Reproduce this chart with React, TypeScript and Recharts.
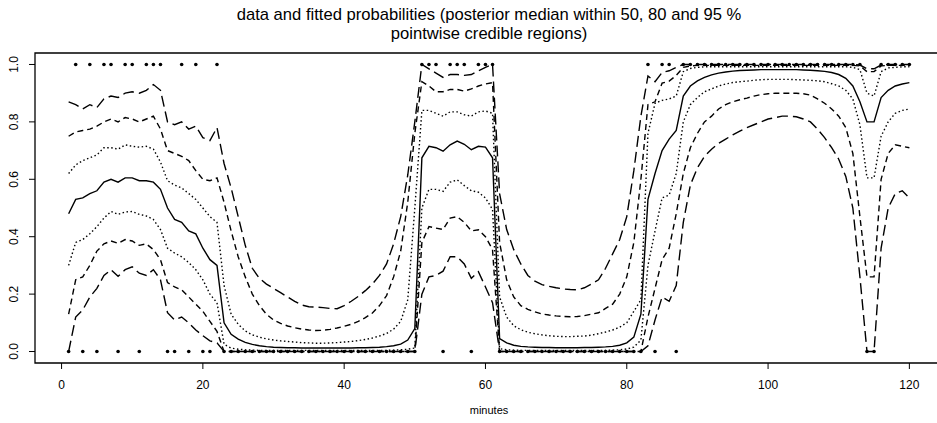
import React from 'react';
import { ComposedChart, Line, XAxis, YAxis, ReferenceArea } from 'recharts';

const minutes = [
  1, 2, 3, 4, 5, 6, 7, 8, 9, 10, 11, 12, 13, 14, 15, 16, 17, 18, 19, 20,
  21, 22, 23, 24, 25, 26, 27, 28, 29, 30, 31, 32, 33, 34, 35, 36, 37, 38, 39, 40,
  41, 42, 43, 44, 45, 46, 47, 48, 49, 50, 51, 52, 53, 54, 55, 56, 57, 58, 59, 60,
  61, 62, 63, 64, 65, 66, 67, 68, 69, 70, 71, 72, 73, 74, 75, 76, 77, 78, 79, 80,
  81, 82, 83, 84, 85, 86, 87, 88, 89, 90, 91, 92, 93, 94, 95, 96, 97, 98, 99, 100,
  101, 102, 103, 104, 105, 106, 107, 108, 109, 110, 111, 112, 113, 114, 115, 116, 117, 118, 119, 120,
];

const observed = [
  0, 1, 0, 1, 0, 1, 1, 0, 1, 1,
  0, 1, 1, 1, 0, 0, 1, 0, 1, 0,
  0, 1, 0, 0, 0, 0, 0, 0, 0, 0,
  0, 0, 0, 0, 0, 0, 0, 0, 0, 0,
  0, 0, 0, 0, 0, 0, 0, 0, 0, 0,
  1, 1, 1, 0, 1, 1, 1, 0, 1, 1,
  1, 0, 0, 0, 0, 0, 0, 0, 0, 0,
  0, 0, 0, 0, 0, 0, 0, 0, 0, 0,
  0, 0, 1, 0, 1, 1, 0, 1, 1, 1,
  1, 1, 1, 1, 1, 1, 1, 1, 1, 1,
  1, 1, 1, 1, 1, 1, 1, 1, 1, 1,
  1, 1, 1, 0, 0, 1, 1, 1, 1, 1,
];

const median = [
  0.48, 0.53, 0.535, 0.55, 0.56, 0.59, 0.6, 0.59, 0.605, 0.605,
  0.595, 0.595, 0.59, 0.565, 0.5, 0.46, 0.45, 0.42, 0.41, 0.36,
  0.32, 0.3, 0.1, 0.06, 0.043, 0.032, 0.025, 0.02, 0.017, 0.015,
  0.014, 0.013, 0.013, 0.012, 0.012, 0.012, 0.012, 0.012, 0.012, 0.012,
  0.012, 0.013, 0.013, 0.014, 0.015, 0.017, 0.02, 0.026, 0.04, 0.08,
  0.675, 0.715, 0.71, 0.698, 0.72, 0.733, 0.722, 0.703, 0.715, 0.712,
  0.675, 0.045, 0.03, 0.022, 0.018, 0.016, 0.015, 0.014, 0.014, 0.013,
  0.013, 0.013, 0.013, 0.014, 0.014, 0.015, 0.016, 0.018, 0.022, 0.03,
  0.05, 0.13, 0.53, 0.62, 0.7, 0.74, 0.77, 0.89, 0.925, 0.943,
  0.955, 0.964, 0.97, 0.974, 0.977, 0.979, 0.98, 0.981, 0.982, 0.982,
  0.982, 0.982, 0.982, 0.982, 0.981, 0.98, 0.978, 0.976, 0.972, 0.965,
  0.952, 0.925, 0.87, 0.8, 0.8, 0.885, 0.91, 0.925, 0.932, 0.937,
];

const upper50 = [
  0.62, 0.65, 0.665, 0.675, 0.685, 0.71, 0.71, 0.705, 0.72, 0.715,
  0.712, 0.715, 0.705, 0.66, 0.595, 0.58, 0.57, 0.55, 0.53, 0.5,
  0.47, 0.45, 0.23, 0.13, 0.095, 0.072, 0.058, 0.05, 0.044, 0.04,
  0.037, 0.035, 0.033, 0.031, 0.03, 0.029, 0.029, 0.03, 0.031, 0.033,
  0.035, 0.038, 0.042, 0.047, 0.054, 0.063, 0.078, 0.105, 0.18, 0.5,
  0.84, 0.84, 0.83, 0.82, 0.835, 0.835, 0.825, 0.82, 0.835, 0.838,
  0.83, 0.19, 0.12, 0.09, 0.076, 0.067, 0.062, 0.058, 0.055, 0.053,
  0.052, 0.052, 0.053, 0.054, 0.057, 0.062, 0.068, 0.075, 0.085, 0.1,
  0.14, 0.18, 0.76, 0.865, 0.875, 0.88, 0.89, 0.975, 0.986, 0.99,
  0.992, 0.992, 0.992, 0.992, 0.992, 0.992, 0.992, 0.992, 0.992, 0.992,
  0.992, 0.992, 0.992, 0.992, 0.992, 0.992, 0.992, 0.992, 0.992, 0.992,
  0.992, 0.99, 0.982, 0.9, 0.89, 0.975, 0.988, 0.99, 0.992, 0.992,
];

const lower50 = [
  0.3, 0.38, 0.39, 0.41, 0.435, 0.465, 0.488, 0.478, 0.486, 0.488,
  0.478, 0.472, 0.46, 0.425, 0.36, 0.343, 0.33, 0.31, 0.285, 0.25,
  0.2, 0.17, 0.025, 0.012, 0.008, 0.006, 0.005, 0.004, 0.004, 0.004,
  0.004, 0.004, 0.004, 0.004, 0.004, 0.004, 0.004, 0.004, 0.004, 0.004,
  0.004, 0.004, 0.004, 0.004, 0.004, 0.004, 0.005, 0.006, 0.008, 0.012,
  0.5, 0.565, 0.565, 0.558, 0.59, 0.598, 0.578, 0.56, 0.555, 0.535,
  0.495, 0.01, 0.006, 0.005, 0.004, 0.004, 0.004, 0.004, 0.004, 0.004,
  0.004, 0.004, 0.004, 0.004, 0.004, 0.004, 0.004, 0.005, 0.006, 0.009,
  0.015, 0.04, 0.3, 0.42, 0.535, 0.545, 0.62, 0.8, 0.86, 0.885,
  0.905, 0.915, 0.925, 0.932, 0.937, 0.94, 0.942, 0.945, 0.947, 0.948,
  0.948, 0.948, 0.948, 0.947, 0.946, 0.945, 0.943, 0.94, 0.933, 0.925,
  0.91, 0.88, 0.79, 0.605, 0.605, 0.75, 0.8, 0.83, 0.84, 0.845,
];

const upper80 = [
  0.75, 0.765, 0.77, 0.775, 0.785, 0.8, 0.81, 0.8, 0.815, 0.81,
  0.8, 0.81, 0.82, 0.775, 0.7, 0.69, 0.68, 0.665, 0.63, 0.6,
  0.595, 0.605, 0.52, 0.42, 0.33, 0.26, 0.2, 0.16, 0.13, 0.11,
  0.098, 0.089, 0.083, 0.078, 0.075, 0.073, 0.074, 0.077, 0.082, 0.088,
  0.095, 0.105, 0.118, 0.134, 0.16, 0.195, 0.26, 0.35, 0.52, 0.76,
  0.94, 0.925, 0.905, 0.905, 0.913, 0.913, 0.907, 0.915, 0.925, 0.932,
  0.937, 0.38, 0.25, 0.19, 0.16, 0.147, 0.138, 0.131, 0.127, 0.124,
  0.122, 0.121, 0.122, 0.125, 0.13, 0.135, 0.15, 0.165, 0.2, 0.26,
  0.38, 0.6, 0.86, 0.87, 0.935, 0.942, 0.962, 0.99, 0.995, 0.997,
  0.997, 0.997, 0.997, 0.997, 0.997, 0.997, 0.997, 0.997, 0.997, 0.997,
  0.997, 0.997, 0.997, 0.997, 0.997, 0.997, 0.997, 0.997, 0.997, 0.997,
  0.997, 0.997, 0.995, 0.975, 0.975, 0.995, 0.997, 0.997, 0.997, 0.997,
];

const lower80 = [
  0.13, 0.25, 0.26, 0.3, 0.35, 0.375, 0.385, 0.377, 0.39, 0.385,
  0.37, 0.375, 0.355, 0.32, 0.24, 0.225, 0.215, 0.19, 0.165, 0.14,
  0.105, 0.07, 0, 0, 0, 0, 0, 0, 0, 0,
  0, 0, 0, 0, 0, 0, 0, 0, 0, 0,
  0, 0, 0, 0, 0, 0, 0, 0, 0, 0,
  0.38, 0.435, 0.43, 0.425, 0.465, 0.47, 0.45, 0.42, 0.424, 0.4,
  0.355, 0, 0, 0, 0, 0, 0, 0, 0, 0,
  0, 0, 0, 0, 0, 0, 0, 0, 0, 0,
  0, 0, 0.12, 0.22, 0.32, 0.36, 0.48, 0.62, 0.71, 0.76,
  0.8, 0.82, 0.845, 0.86, 0.87, 0.877, 0.883, 0.89, 0.895, 0.898,
  0.9, 0.9, 0.9, 0.9, 0.898, 0.893, 0.88, 0.865, 0.845, 0.82,
  0.78, 0.69, 0.47, 0.26, 0.26, 0.6, 0.69, 0.72, 0.715, 0.71,
];

const upper95 = [
  0.87, 0.86, 0.845, 0.86, 0.85, 0.88, 0.89, 0.885, 0.9, 0.905,
  0.9, 0.91, 0.93, 0.91, 0.8, 0.79, 0.8, 0.775, 0.785, 0.745,
  0.735, 0.78, 0.655, 0.57, 0.47, 0.37, 0.29, 0.255, 0.235, 0.22,
  0.205, 0.19, 0.175, 0.162, 0.156, 0.155, 0.153, 0.15, 0.149, 0.16,
  0.175, 0.192, 0.212, 0.235, 0.265, 0.305, 0.375, 0.47, 0.615, 0.8,
  1.0, 0.985, 0.97, 0.955, 0.965, 0.965, 0.962, 0.965, 0.978, 0.99,
  1.0, 0.55, 0.425, 0.355, 0.305, 0.265, 0.245, 0.233, 0.227, 0.222,
  0.218, 0.216, 0.215, 0.222, 0.235, 0.25, 0.29, 0.34, 0.39, 0.47,
  0.63, 0.82, 0.96, 0.94, 0.972, 0.978, 0.99, 1.0, 1.0, 1.0,
  1.0, 1.0, 1.0, 1.0, 1.0, 1.0, 1.0, 1.0, 1.0, 1.0,
  1.0, 1.0, 1.0, 1.0, 1.0, 1.0, 1.0, 1.0, 1.0, 1.0,
  1.0, 1.0, 0.998, 0.985, 0.985, 0.998, 1.0, 1.0, 1.0, 1.0,
];

const lower95 = [
  0, 0.12, 0.145, 0.19, 0.22, 0.265, 0.285, 0.262, 0.285, 0.295,
  0.273, 0.265, 0.285, 0.25, 0.135, 0.11, 0.12, 0.1, 0.075, 0.055,
  0.037, 0.03, 0, 0, 0, 0, 0, 0, 0, 0,
  0, 0, 0, 0, 0, 0, 0, 0, 0, 0,
  0, 0, 0, 0, 0, 0, 0, 0, 0, 0,
  0.2, 0.26, 0.265, 0.28, 0.33, 0.33, 0.305, 0.255, 0.278, 0.225,
  0.17, 0, 0, 0, 0, 0, 0, 0, 0, 0,
  0, 0, 0, 0, 0, 0, 0, 0, 0, 0,
  0, 0, 0.02, 0.11, 0.19, 0.175, 0.23, 0.45, 0.58, 0.64,
  0.68, 0.705, 0.725, 0.74, 0.755, 0.768, 0.78, 0.79, 0.8, 0.81,
  0.815, 0.82, 0.82, 0.818, 0.81, 0.8, 0.775, 0.745, 0.71, 0.67,
  0.61, 0.5, 0.26, 0, 0, 0.36, 0.5, 0.55, 0.56, 0.535,
];

const xTicks = [0, 20, 40, 60, 80, 100, 120];
const yTicks = [0, 0.2, 0.4, 0.6, 0.8, 1.0];
const titleLines = [
  'data and fitted probabilities (posterior median within 50, 80 and 95 %',
  'pointwise credible regions)',
];
const xLabel = 'minutes';

const X_DOMAIN: [number, number] = [-3.76, 124.76];
const Y_DOMAIN: [number, number] = [-0.04, 1.04];

const FONT = '"Liberation Sans", Arial, Helvetica, sans-serif';

const data = minutes.map((m, i) => ({
  minute: m,
  obs: observed[i],
  med: median[i],
  hi50: upper50[i],
  lo50: lower50[i],
  hi80: upper80[i],
  lo80: lower80[i],
  hi95: upper95[i],
  lo95: lower95[i],
}));

const YTick = (props: any) => {
  const { y, payload } = props;
  return (
    <text
      x={14}
      y={y}
      transform={`rotate(-90 14 ${y})`}
      textAnchor="middle"
      dominantBaseline="central"
      fontSize={12}
      fontFamily={FONT}
      fill="#000"
    >
      {Number(payload.value).toFixed(1)}
    </text>
  );
};

const ObsDot = (p: any) => {
  if (p.cx == null || p.cy == null) return <g key={`o${p.index}`} />;
  return <circle key={`o${p.index}`} cx={p.cx} cy={p.cy} r={1.8} fill="#000" stroke="none" />;
};

const lineStyle = { stroke: '#000', strokeWidth: 1.4, dot: false, activeDot: false, isAnimationActive: false, type: 'linear' as const };

export default function App() {
  return (
    <div
      style={{
        position: 'fixed',
        left: 0,
        top: 0,
        width: 937,
        height: 423,
        overflow: 'hidden',
        background: '#fff',
        fontFamily: FONT,
      }}
    >
      <div
        style={{
          position: 'absolute',
          left: 0,
          top: 5,
          width: 978,
          textAlign: 'center',
          fontSize: 16.6,
          lineHeight: '19px',
          color: '#000',
          whiteSpace: 'nowrap',
        }}
      >
        {titleLines.map((t) => (
          <div key={t}>{t}</div>
        ))}
      </div>
      <ComposedChart
        width={950}
        height={423}
        data={data}
        margin={{ top: 53, right: 7, bottom: 20, left: 5 }}
      >
        <XAxis
          dataKey="minute"
          type="number"
          domain={X_DOMAIN}
          ticks={xTicks}
          allowDataOverflow
          interval={0}
          axisLine={false}
          tickLine={{ stroke: '#000', strokeWidth: 1 }}
          tickSize={6}
          tickMargin={11}
          height={40}
          tick={{ fontSize: 12, fill: '#000', fontFamily: FONT }}
        />
        <YAxis
          type="number"
          domain={Y_DOMAIN}
          ticks={yTicks}
          allowDataOverflow
          interval={0}
          axisLine={false}
          tickLine={{ stroke: '#000', strokeWidth: 1 }}
          tickSize={6}
          width={30}
          tick={<YTick />}
        />
        <ReferenceArea
          x1={X_DOMAIN[0]}
          x2={X_DOMAIN[1]}
          y1={Y_DOMAIN[0]}
          y2={Y_DOMAIN[1]}
          fill="none"
          stroke="#000"
          strokeWidth={1.3}
          ifOverflow="visible"
        />
        <Line dataKey="hi95" {...lineStyle} strokeDasharray="11 5" />
        <Line dataKey="hi80" {...lineStyle} strokeDasharray="6 4" />
        <Line dataKey="hi50" {...lineStyle} strokeDasharray="1.5 2.5" />
        <Line dataKey="med" {...lineStyle} />
        <Line dataKey="lo50" {...lineStyle} strokeDasharray="1.5 2.5" />
        <Line dataKey="lo80" {...lineStyle} strokeDasharray="6 4" />
        <Line dataKey="lo95" {...lineStyle} strokeDasharray="11 5" />
        <Line
          dataKey="obs"
          stroke="none"
          dot={ObsDot}
          activeDot={false}
          isAnimationActive={false}
        />
      </ComposedChart>
      <div
        style={{
          position: 'absolute',
          left: 0,
          top: 404,
          width: 978,
          textAlign: 'center',
          fontSize: 11,
          lineHeight: '12px',
          color: '#000',
        }}
      >
        {xLabel}
      </div>
    </div>
  );
}
